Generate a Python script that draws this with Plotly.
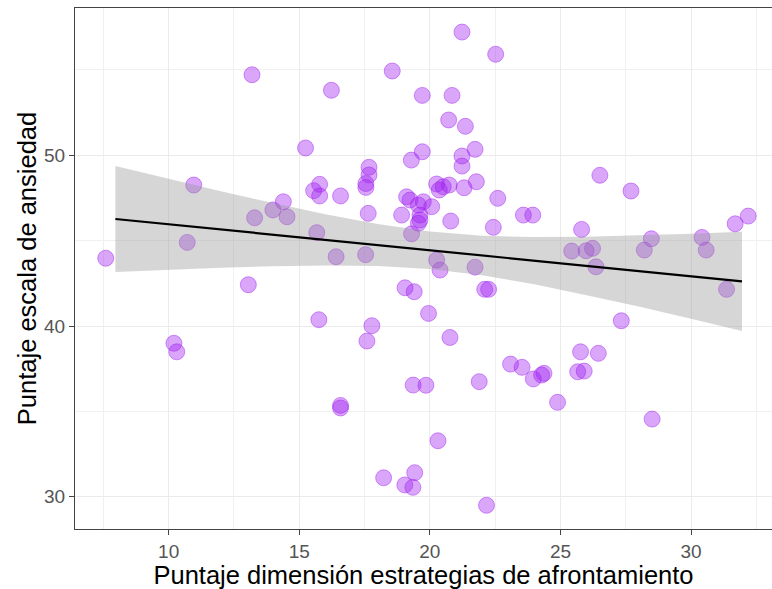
import plotly.graph_objects as go

# Scatter data (afrontamiento score vs. anxiety score)
x_afront = [7.59, 10.71, 10.96, 10.20, 10.31, 13.19, 13.05, 13.29, 13.99, 14.39,
            14.53, 15.24, 15.55, 15.78, 15.78, 15.67, 15.75, 16.23, 16.58, 16.41,
            16.58, 16.58, 17.67, 17.67, 17.55, 17.55, 17.64, 17.54, 17.78, 17.59,
            18.23, 18.56, 18.92, 19.05, 19.04, 19.11, 19.24, 19.29, 19.30, 19.36,
            19.40, 19.35, 19.42, 19.56, 19.75, 19.62, 19.62, 19.56, 19.71, 19.71,
            19.85, 19.95, 20.07, 20.26, 20.39, 20.26, 20.51, 20.74, 20.36, 20.31,
            20.80, 20.77, 20.85, 20.72, 21.23, 21.23, 21.23, 21.31, 21.36, 21.73,
            21.78, 21.73, 21.89, 22.10, 22.25, 22.17, 22.43, 22.52, 22.60, 23.09,
            23.53, 23.58, 23.94, 23.96, 24.28, 24.37, 24.89, 25.43, 25.66, 25.91,
            25.77, 25.81, 25.98, 26.23, 26.36, 26.45, 26.51, 27.33, 27.70, 28.21,
            28.48, 28.51, 30.42, 30.58, 31.36, 31.69, 32.19]
y_ansiedad = [43.97, 44.90, 48.26, 38.99, 38.49, 54.72, 42.42, 46.34, 46.80, 47.28,
              46.40, 50.43, 47.93, 48.30, 47.62, 45.47, 40.37, 53.81, 47.62, 44.06,
              35.35, 35.20, 49.30, 48.85, 48.35, 48.12, 46.60, 44.18, 40.02, 39.12,
              31.11, 54.94, 46.50, 42.24, 30.69, 47.57, 47.38, 49.72, 45.40, 36.54,
              42.01, 30.55, 31.41, 47.09, 47.28, 46.50, 46.21, 46.02, 53.51, 50.21,
              36.53, 40.74, 46.99, 43.87, 43.28, 48.32, 48.16, 48.26, 47.97, 33.28,
              46.15, 39.33, 53.51, 52.07, 57.22, 49.96, 49.37, 48.10, 51.70, 50.35,
              48.45, 43.45, 36.74, 42.15, 42.15, 29.50, 45.78, 55.92, 47.48, 37.77,
              37.58, 46.50, 46.50, 36.90, 37.13, 37.23, 35.53, 44.39, 37.32, 37.36,
              38.49, 45.66, 44.41, 44.55, 43.47, 38.40, 48.83, 40.31, 47.91, 44.45,
              45.11, 34.55, 45.19, 44.45, 42.15, 45.99, 46.44]

# Fitted regression line and its confidence band
fit_x = [7.96, 31.95]
fit_y = [46.27, 42.62]
band_x = [7.96, 10, 12, 14, 16, 18, 20, 22, 24, 26, 28, 30, 31.95]
band_lo = [43.17, 43.30, 43.41, 43.50, 43.55, 43.51, 43.34, 42.97, 42.45, 41.81, 41.14, 40.42, 39.71]
band_hi = [49.37, 48.62, 47.90, 47.20, 46.55, 45.97, 45.54, 45.29, 45.21, 45.23, 45.30, 45.40, 45.53]

x_ticks = [10, 15, 20, 25, 30]
y_ticks = [30, 40, 50]

fig = go.Figure()
fig.add_trace(go.Scatter(
    x=x_afront, y=y_ansiedad, mode="markers",
    marker=dict(size=16, color="rgba(160,32,240,0.4)",
                line=dict(color="rgba(160,32,240,0.45)", width=1)),
    showlegend=False, hoverinfo="skip"))
fig.add_trace(go.Scatter(x=band_x, y=band_lo, mode="lines", line=dict(width=0),
                         showlegend=False, hoverinfo="skip"))
fig.add_trace(go.Scatter(x=band_x, y=band_hi, mode="lines", line=dict(width=0),
                         fill="tonexty", fillcolor="rgba(153,153,153,0.4)",
                         showlegend=False, hoverinfo="skip"))
fig.add_trace(go.Scatter(x=fit_x, y=fit_y, mode="lines",
                         line=dict(color="black", width=2.2),
                         showlegend=False, hoverinfo="skip"))

axis_common = dict(
    showgrid=True, gridcolor="#EBEBEB", gridwidth=1.2,
    zeroline=False, showline=True, linecolor="#444444", linewidth=1,
    ticks="outside", ticklen=5, tickcolor="#444444", tickwidth=1,
    tickfont=dict(family="Liberation Sans, Arial, sans-serif", size=19, color="#555555"),
)

fig.update_layout(
    width=772, height=589,
    margin=dict(l=75, r=0, t=8, b=60),
    paper_bgcolor="white", plot_bgcolor="white",
    font=dict(family="Liberation Sans, Arial, sans-serif"),
    xaxis=dict(
        range=[6.413, 33.10], tickmode="array", tickvals=x_ticks,
        ticktext=[str(v) for v in x_ticks], mirror=True,
        minor=dict(showgrid=True, gridcolor="#F0F0F0", gridwidth=0.8,
                   tick0=7.5, dtick=5, ticks=""),
        title=dict(text="Puntaje dimensión estrategias de afrontamiento",
                   font=dict(size=25.5, color="black"), standoff=2),
        automargin=False,
        **axis_common),
    yaxis=dict(
        range=[28.11, 58.63], tickmode="array", tickvals=y_ticks,
        ticktext=[str(v) for v in y_ticks],
        minor=dict(showgrid=True, gridcolor="#F0F0F0", gridwidth=0.8,
                   tick0=25, dtick=10, ticks=""),
        title=dict(text="Puntaje escala de ansiedad",
                   font=dict(size=25.5, color="black"), standoff=0),
        automargin=False,
        **axis_common),
)

fig.write_html("out.html", config={"displayModeBar": False},
               post_script="document.body.style.margin='0';document.body.style.overflow='hidden';")
